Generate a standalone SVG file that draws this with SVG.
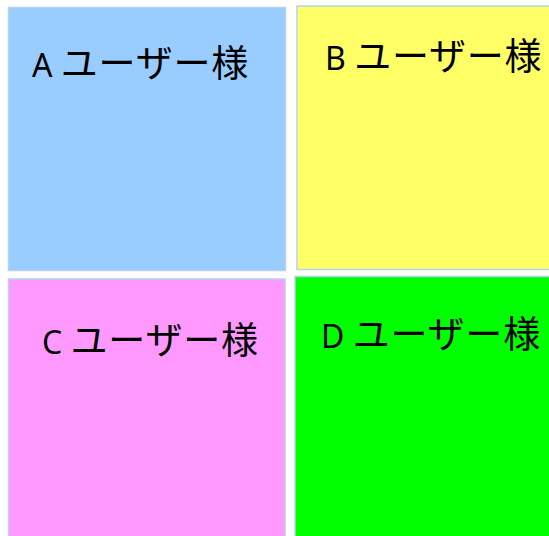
<svg xmlns="http://www.w3.org/2000/svg" width="549" height="536" viewBox="0 0 549 536">
<style>
.box{stroke:#b4d2f2;stroke-width:1.5}
.lbl{font-family:"Noto Sans CJK JP","Noto Sans",sans-serif;font-size:37px;font-weight:400;letter-spacing:0.8px;fill:#000}
.lat{font-family:"Noto Sans","Noto Sans CJK JP",sans-serif;font-size:32px;font-weight:400;letter-spacing:0}
</style>
<rect width="549" height="536" fill="#ffffff"/>
<g id="nodeA">
<rect class="box" x="8.5" y="7.5" width="277" height="263" fill="#99ccff"/>
<text class="lbl" x="32" y="77"><tspan class="lat">A </tspan>ユーザー様</text>
</g>
<g id="nodeB">
<rect class="box" x="297" y="6" width="260" height="263.5" fill="#ffff66"/>
<text class="lbl" x="325" y="70"><tspan class="lat">B </tspan>ユーザー様</text>
</g>
<g id="nodeC">
<rect class="box" x="8.5" y="279" width="276.5" height="265" fill="#ff99ff"/>
<text class="lbl" x="42" y="354"><tspan class="lat">C </tspan>ユーザー様</text>
</g>
<g id="nodeD">
<rect class="box" x="295" y="276.5" width="262" height="268" fill="#00ff00"/>
<text class="lbl" x="321" y="348"><tspan class="lat">D </tspan>ユーザー様</text>
</g>
<g id="connectors"></g>
</svg>
